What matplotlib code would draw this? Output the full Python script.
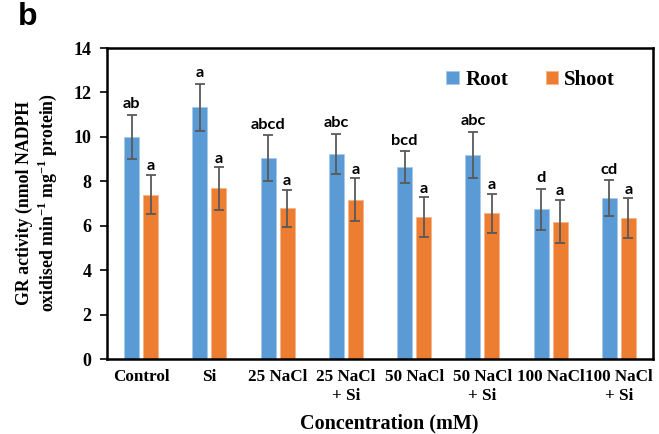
import numpy as np
import matplotlib
matplotlib.use("Agg")
import matplotlib.pyplot as plt

# GR activity per treatment, root vs shoot
treatments = ["Control", "Si", "25 NaCl", "25 NaCl\n+ Si", "50 NaCl",
              "50 NaCl\n+ Si", "100 NaCl", "100 NaCl\n+ Si"]
root_mean = [10.0, 11.33, 9.05, 9.23, 8.63, 9.19, 6.74, 7.24]
root_err = [1.0, 1.06, 1.03, 0.91, 0.72, 1.05, 0.93, 0.82]
shoot_mean = [7.40, 7.68, 6.78, 7.16, 6.38, 6.56, 6.18, 6.33]
shoot_err = [0.88, 0.95, 0.83, 0.97, 0.90, 0.88, 0.97, 0.90]
root_letters = ["ab", "a", "abcd", "abc", "bcd", "abc", "d", "cd"]
shoot_letters = ["a"] * 8

blue = "#5B9BD5"
orange = "#ED7D31"
serif = "Liberation Serif"

plt.rcParams["mathtext.fontset"] = "custom"
plt.rcParams["mathtext.rm"] = "Liberation Serif:bold"
plt.rcParams["mathtext.bf"] = "Liberation Serif:bold"

fig = plt.figure(figsize=(6.59, 4.34), dpi=100)
ax = fig.add_axes([0.1624, 0.1728, 0.8286, 0.7166])

x = np.arange(len(treatments))
w = 0.22
off = 0.14
err_kw = dict(ecolor="#595959", elinewidth=1.3, capsize=3.5, capthick=1.3)
ax.bar(x - off, root_mean, w, yerr=root_err, color=blue, edgecolor="#a9c9ea",
       linewidth=0.6, error_kw=err_kw, label="Root", zorder=2)
ax.bar(x + off, shoot_mean, w, yerr=shoot_err, color=orange, edgecolor="#f5b48a",
       linewidth=0.6, error_kw=err_kw, label="Shoot", zorder=2)

# significance letters above each bar
for i in range(len(treatments)):
    ax.text(x[i] - off, root_mean[i] + root_err[i] + 0.15, root_letters[i],
            ha="center", va="bottom", fontsize=11.8, fontweight="bold",
            family="Lato", zorder=3)
    ax.text(x[i] + off, shoot_mean[i] + shoot_err[i] + 0.08, shoot_letters[i],
            ha="center", va="bottom", fontsize=11.8, fontweight="bold",
            family="Lato", zorder=3)

ax.set_xlim(-0.5, len(treatments) - 0.5)
ax.set_ylim(0, 14)
ax.set_yticks(np.arange(0, 15, 2))
ax.set_xticks(x)
ax.set_xticklabels(treatments, fontsize=12.3, fontweight="bold", family=serif,
                   linespacing=1.3)
ax.tick_params(axis="x", length=0, pad=7)
ax.tick_params(axis="y", length=5, width=1.2, direction="out", pad=6)
for lab in ax.get_yticklabels():
    lab.set_fontsize(13)
    lab.set_fontweight("bold")
    lab.set_family(serif)

for s in ax.spines.values():
    s.set_linewidth(1.8)
    s.set_color("black")

fig.text(389 / 659, 1 - 423 / 434, "Concentration (mM)", fontsize=14.5,
         fontweight="bold", family=serif, ha="center", va="center")
fig.text(37 / 659, 1 - 203 / 434,
         "GR activity (nmol NADPH\noxidised min$^{-1}$ mg$^{-1}$ protein)",
         rotation=90, fontsize=12.8, fontweight="bold", family=serif,
         ha="center", va="center", linespacing=1.15)

ax.legend(loc="upper right", bbox_to_anchor=(0.965, 0.99), ncol=2,
          frameon=False, handlelength=0.6, handleheight=0.6,
          handletextpad=0.3, columnspacing=1.8,
          prop=dict(family=serif, weight="bold", size=15))

fig.text(0.027, 0.995, "b", fontsize=23, fontweight="bold", family="Liberation Sans",
         va="top")

fig.savefig("out.png", dpi=100)
